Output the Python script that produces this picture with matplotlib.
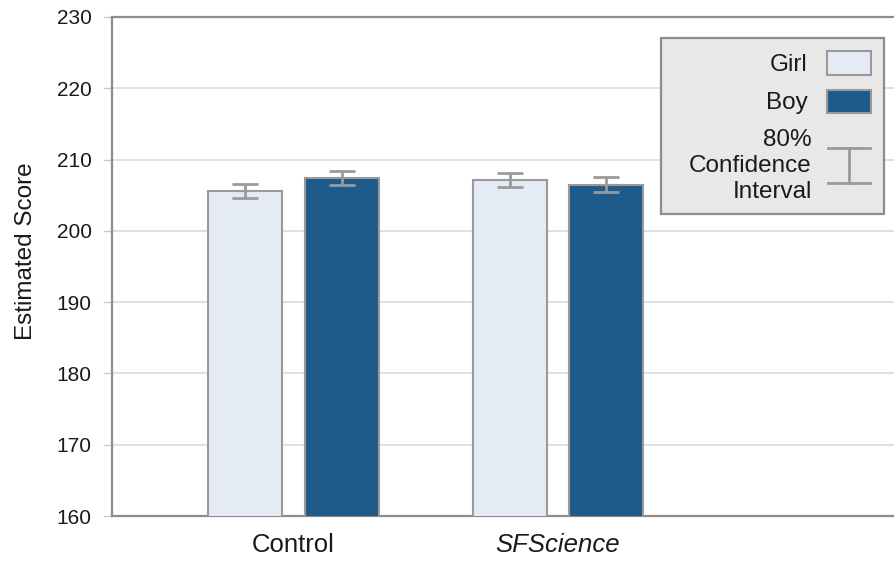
import matplotlib
matplotlib.use("Agg")
from matplotlib import pyplot as plt
from matplotlib.patches import Rectangle
from matplotlib.lines import Line2D
import numpy as np

plt.rcParams['font.family'] = ['Liberation Sans', 'DejaVu Sans']

# data
groups = ["Control", "SFScience"]
girl_scores = [205.6, 207.1]
boy_scores = [207.4, 206.5]
girl_ci = [0.95, 1.0]
boy_ci = [1.0, 1.0]
series_names = ["Girl", "Boy"]
ci_label = "80%\nConfidence\nInterval"

girl_color = "#e4ebf5"
boy_color = "#1f5b8a"
edge_gray = "#9a9a9a"
text_color = "#1a1a1a"
W, H = 895, 561

fig = plt.figure(figsize=(W / 100, H / 100), dpi=100)
ax = fig.add_axes([112 / W, 1 - 516 / H, 1 - 112 / W, (516 - 17) / H])

x = np.arange(len(groups))
width = 0.28
off = 0.183

ax.bar(x - off, girl_scores, width, color=girl_color, edgecolor=edge_gray, linewidth=1.5, zorder=3)
ax.bar(x + off, boy_scores, width, color=boy_color, edgecolor=edge_gray, linewidth=1.5, zorder=3)
ax.errorbar(x - off, girl_scores, yerr=girl_ci, fmt='none', ecolor=edge_gray, elinewidth=2,
            capsize=9.4, capthick=2, zorder=4)
ax.errorbar(x + off, boy_scores, yerr=boy_ci, fmt='none', ecolor=edge_gray, elinewidth=2,
            capsize=9.4, capthick=2, zorder=4)

ax.set_ylim(160, 230)
ax.set_xlim(-0.686, 2.274)
ax.set_yticks(np.arange(160, 231, 10))
ax.set_xticks(x)
ax.set_xticklabels(groups, fontsize=18.5)
ax.get_xticklabels()[1].set_style("italic")
ax.tick_params(axis='y', labelsize=15, length=6.5, width=1, color="#cccccc", pad=8, labelcolor=text_color)
ax.tick_params(axis='x', length=0, pad=12, labelcolor=text_color)
ax.yaxis.grid(True, color="#dddddd", linewidth=1.3, zorder=0)
ax.set_axisbelow(True)

for s in ['left', 'top', 'bottom']:
    ax.spines[s].set_color("#8c8c8c")
    ax.spines[s].set_linewidth(1.6)
ax.spines['right'].set_visible(False)

ax.set_ylabel("Estimated Score", fontsize=17.5, color=text_color)
ax.yaxis.set_label_coords(-0.096, 0.53)

# hand-drawn legend box, in figure pixels
def fx(px):
    return px / W

def fy(py):
    return 1 - py / H

tf = fig.transFigure
fig.add_artist(Rectangle((fx(661), fy(214)), fx(884) - fx(661), fy(38) - fy(214), transform=tf,
                         facecolor="#e8e8e8", edgecolor="#8c8c8c", linewidth=1.6, zorder=5))
fig.add_artist(Rectangle((fx(827), fy(75)), fx(871) - fx(827), fy(51) - fy(75), transform=tf,
                         facecolor=girl_color, edgecolor=edge_gray, linewidth=1.5, zorder=6))
fig.add_artist(Rectangle((fx(827), fy(113)), fx(871) - fx(827), fy(90) - fy(113), transform=tf,
                         facecolor=boy_color, edgecolor=edge_gray, linewidth=1.5, zorder=6))
ci_x = [fx(849), fx(849)]
fig.add_artist(Line2D(ci_x, [fy(148), fy(183)], transform=tf, color=edge_gray, linewidth=2, zorder=6))
fig.add_artist(Line2D([fx(828), fx(870)], [fy(148), fy(148)], transform=tf, color=edge_gray, linewidth=2, zorder=6))
fig.add_artist(Line2D([fx(828), fx(870)], [fy(183), fy(183)], transform=tf, color=edge_gray, linewidth=2, zorder=6))

fig.text(fx(808), fy(65), series_names[0], ha='right', va='center', fontsize=17.5, color=text_color, zorder=7)
fig.text(fx(808), fy(103), series_names[1], ha='right', va='center', fontsize=17.5, color=text_color, zorder=7)
fig.text(fx(812), fy(166), ci_label, ha='right', va='center', fontsize=17.5, color=text_color,
         linespacing=1.22, multialignment='right', zorder=7)

fig.savefig("out.png", dpi=100)
